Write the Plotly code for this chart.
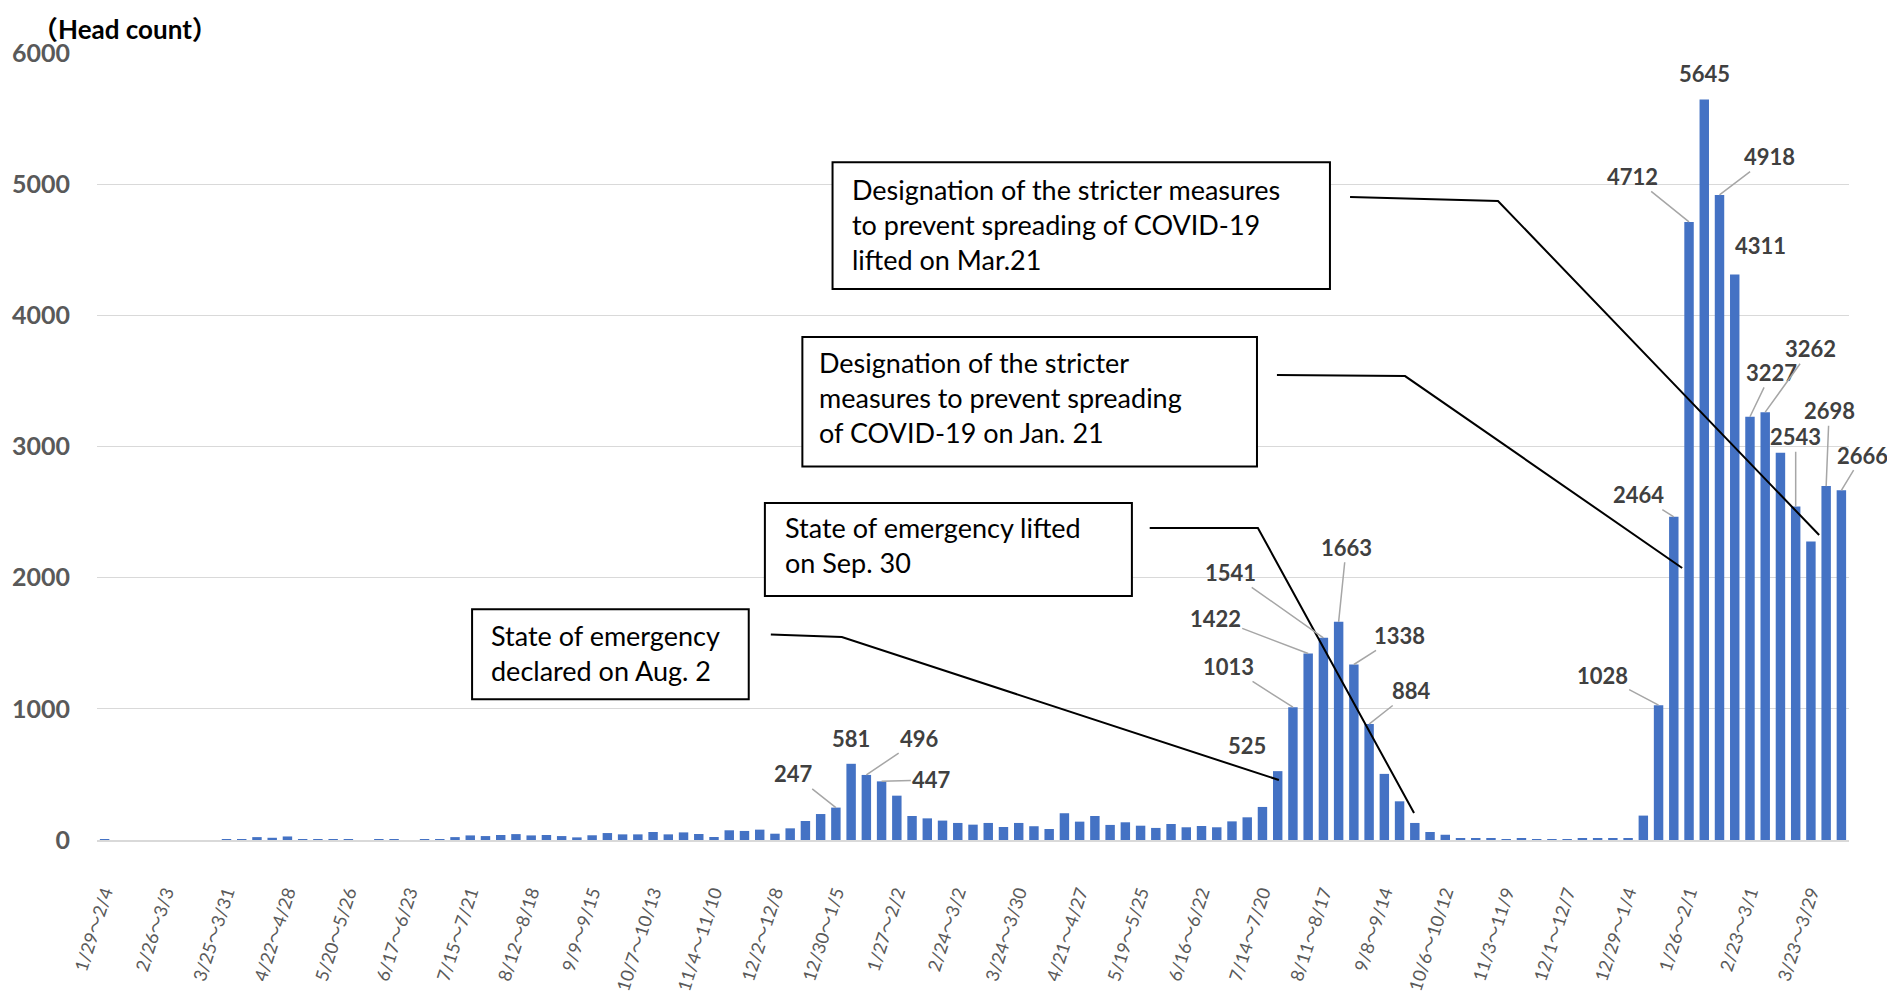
import datetime as dt
import plotly.graph_objects as go

# ---------------- data ----------------
START = dt.date(2020, 1, 29)
N_WEEKS = 115
WEEKS = []
for i in range(N_WEEKS):
    s = START + dt.timedelta(days=7 * i)
    e = s + dt.timedelta(days=6)
    WEEKS.append(f"{s.month}/{s.day}～{e.month}/{e.day}")

TICK_LABELS = [
    "1/29～2/4", "2/26～3/3", "3/25～3/31", "4/22～4/28", "5/20～5/26",
    "6/17～6/23", "7/15～7/21", "8/12～8/18", "9/9～9/15", "10/7～10/13",
    "11/4～11/10", "12/2～12/8", "12/30～1/5", "1/27～2/2", "2/24～3/2",
    "3/24～3/30", "4/21～4/27", "5/19～5/25", "6/16～6/22", "7/14～7/20",
    "8/11～8/17", "9/8～9/14", "10/6～10/12", "11/3～11/9", "12/1～12/7",
    "12/29～1/4", "1/26～2/1", "2/23～3/1", "3/23～3/29",
]

VALUES = [
    1, 0, 0, 0, 0, 0, 0, 0, 1, 4,
    22, 17, 27, 1, 1, 7, 1, 0, 1, 1,
    0, 2, 6, 22, 35, 30, 38, 45, 35, 38,
    30, 20, 36, 53, 43, 43, 61, 43, 58, 46,
    23, 74, 69, 79, 48, 89, 145, 198, 247, 581,
    496, 447, 338, 183, 165, 148, 130, 117, 130, 99,
    130, 105, 84, 204, 140, 183, 115, 135, 109, 92,
    122, 97, 107, 97, 142, 173, 252, 525, 1013, 1422,
    1541, 1663, 1338, 884, 504, 295, 130, 61, 40, 11,
    11, 8, 4, 8, 6, 1, 6, 8, 9, 9,
    10, 186, 1028, 2464, 4712, 5645, 4918, 4311, 3227, 3262,
    2953, 2543, 2276, 2698, 2666,
]

Y_TITLE = "（Head count）"

CALLOUTS = [
    ["Designation of the stricter measures", "to prevent spreading of COVID-19", "lifted on Mar.21"],
    ["Designation of the stricter", "measures to prevent spreading", "of COVID-19 on Jan. 21"],
    ["State of emergency lifted", "on Sep. 30"],
    ["State of emergency", "declared on Aug. 2"],
]

# ---------------- layout helpers (positions/styles) ----------------
FONT = "Lato, 'Noto Sans CJK JP', sans-serif"
BAR_COLOR = "#4472C4"
LABEL_COLOR = "#404040"
TICK_COLOR = "#595959"
LEADER_COLOR = "#A6A6A6"


def cjk_wrap(s):
    out = ""
    for ch in s:
        if ord(ch) > 0x3000:
            out += f'<span style="font-family:Noto Sans CJK JP">{ch}</span>'
        else:
            out += ch
    return out


# labelled bars: index -> (label x, label y, leader?)
LABEL_POS = {
    48: (45.2, 504, True), 49: (49.0, 771, False), 50: (53.5, 771, True),
    51: (54.3, 458, True), 77: (75.0, 718, False), 78: (73.8, 1323, True),
    79: (72.9, 1692, True), 80: (73.9, 2041, True), 81: (81.5, 2232, True),
    82: (85.0, 1560, True), 83: (85.8, 1140, True), 102: (98.3, 1255, True),
    103: (100.7, 2634, True), 104: (100.3, 5060, True), 105: (105.0, 5840, False),
    106: (109.3, 5210, True), 107: (108.7, 4530, False), 108: (109.4, 3565, True),
    109: (112.0, 3745, True), 111: (111.0, 3074, True), 113: (113.2, 3272, True),
    114: (115.4, 2935, True),
}

# callout boxes (x0, x1, y0, y1), text anchor (x, y), connector path
BOXES = [
    (47.78, 80.43, 4201, 5167),
    (45.80, 75.64, 2847, 3835),
    (43.34, 67.43, 1860, 2569),
    (24.12, 42.28, 1073, 1759),
]
TEXT_ANCHORS = [(48.95, 4696), (46.75, 3372), (44.55, 2248), (25.2, 1423)]
CONNECTORS = [
    [(81.75, 4902), (91.46, 4872), (112.54, 2325)],
    [(76.95, 3545), (85.36, 3537), (103.55, 2074)],
    [(68.6, 2379), (75.7, 2379), (85.95, 206)],
    [(43.73, 1567), (48.39, 1548), (77.08, 457)],
]

fig = go.Figure()
fig.add_trace(go.Bar(
    x=list(range(N_WEEKS)), y=VALUES,
    marker=dict(color=BAR_COLOR, line=dict(width=0)),
    hovertext=WEEKS, showlegend=False,
))

annotations = []
for idx, (lx, ly, leader) in LABEL_POS.items():
    if leader:
        annotations.append(dict(
            x=idx, y=VALUES[idx], xref="x", yref="y",
            ax=lx, ay=ly, axref="x", ayref="y",
            text=f"<b>{VALUES[idx]}</b>", showarrow=True,
            arrowhead=0, arrowwidth=1.5, arrowcolor=LEADER_COLOR, standoff=0,
            font=dict(family=FONT, size=22, color=LABEL_COLOR),
        ))
    else:
        annotations.append(dict(
            x=lx, y=ly, xref="x", yref="y", text=f"<b>{VALUES[idx]}</b>",
            showarrow=False, font=dict(family=FONT, size=22, color=LABEL_COLOR),
        ))

shapes = []
for (x0, x1, y0, y1), (tx, ty), lines, path in zip(BOXES, TEXT_ANCHORS, CALLOUTS, CONNECTORS):
    shapes.append(dict(type="rect", xref="x", yref="y", x0=x0, x1=x1, y0=y0, y1=y1,
                       line=dict(color="black", width=2), fillcolor="white", layer="above"))
    annotations.append(dict(
        x=tx, y=ty, xref="x", yref="y", xanchor="left", yanchor="middle",
        text="<br>".join(lines), align="left", showarrow=False,
        font=dict(family=FONT, size=27, color="black"),
    ))
    d = "M " + " L ".join(f"{px},{py}" for px, py in path)
    shapes.append(dict(type="path", xref="x", yref="y", path=d,
                       line=dict(color="black", width=2), layer="above"))

annotations.append(dict(
    x=-0.038, y=1.032, xref="paper", yref="paper", xanchor="left", yanchor="middle",
    text=f"<b>{cjk_wrap(Y_TITLE)}</b>", showarrow=False,
    font=dict(family=FONT, size=26, color="black"),
))

fig.update_layout(
    width=1887, height=995,
    margin=dict(l=89, r=46, t=45, b=163, autoexpand=False),
    paper_bgcolor="white", plot_bgcolor="white",
    bargap=0.38,
    font=dict(family=FONT),
    annotations=annotations, shapes=shapes,
    xaxis=dict(
        range=[-0.5, N_WEEKS - 0.5],
        tickmode="array",
        tickvals=list(range(0, N_WEEKS, 4))[:len(TICK_LABELS)],
        ticktext=[cjk_wrap(t) for t in TICK_LABELS],
        tickangle=-72,
        tickfont=dict(family=FONT, size=18, color=TICK_COLOR),
        showgrid=False, showline=True, linecolor="#D9D9D9", linewidth=2,
        ticks="outside", ticklen=33, tickcolor="rgba(0,0,0,0)", zeroline=False,
        automargin=False,
    ),
    yaxis=dict(
        range=[0, 6000], dtick=1000, tick0=0,
        showgrid=True, gridcolor="#D9D9D9", gridwidth=1.3,
        zeroline=False, showline=False,
        ticks="outside", ticklen=21, tickcolor="rgba(0,0,0,0)",
        tickfont=dict(family=FONT, size=25, color=TICK_COLOR, weight="bold"),
        tickformat="d", automargin=False,
    ),
)

fig.write_html("out.html")
